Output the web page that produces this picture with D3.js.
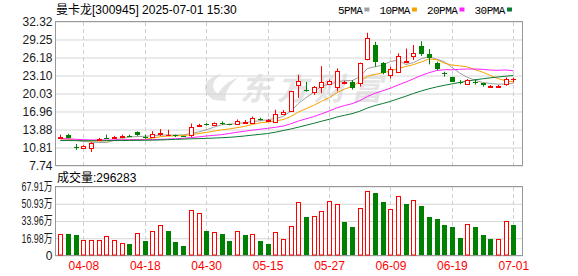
<!DOCTYPE html>
<html>
<head>
<meta charset="utf-8">
<script src="https://cdn.jsdelivr.net/npm/d3@7"></script>
<style>
  body { margin: 0; background: #fff; }
  svg { display: block; font-family: "Liberation Sans", Arial, "Noto Sans CJK SC", sans-serif; }
</style>
</head>
<body>
<svg id="chart" width="578" height="276"></svg>
<script>
// trading days shown (MM-DD)
var dates = ['04-02','04-03','04-07','04-08','04-09','04-10','04-11','04-14','04-15','04-16',
  '04-17','04-18','04-21','04-22','04-23','04-24','04-25','04-28','04-29','04-30',
  '05-06','05-07','05-08','05-09','05-12','05-13','05-14','05-15','05-16','05-19',
  '05-20','05-21','05-22','05-23','05-26','05-27','05-28','05-29','05-30','06-03',
  '06-04','06-05','06-06','06-09','06-10','06-11','06-12','06-13','06-16','06-17',
  '06-18','06-19','06-20','06-23','06-24','06-25','06-26','06-27','06-30','07-01'];

var opens = [12.45,12.9,10.95,10.75,10.85,12.2,12.5,12.55,12.75,12.8,13.4,12.65,12.56,13.25,12.85,12.95,12.75,13.02,14.6,14.75,
  14.62,15.0,14.78,14.86,15.1,15.03,15.7,15.45,15.26,16.55,16.98,21.49,20.7,20.25,21.2,21.78,21.1,21.9,22.05,21.78,
  25.85,28.28,25.17,23.19,23.75,25.55,26.3,28.1,26.7,25.28,23.5,22.85,22.0,21.61,21.95,21.75,21.15,21.2,21.66,22.4];
var highs = [13.0,13.15,11.4,11.2,11.7,12.45,13.0,12.8,13.0,13.0,13.55,13.0,13.6,13.95,13.83,13.0,12.8,14.9,14.85,14.95,
  15.1,15.25,14.85,15.6,15.5,16.1,15.9,15.7,17.25,17.2,20.45,23.2,22.0,21.3,24.7,22.4,24.3,22.2,22.3,25.3,
  30.4,28.85,25.4,24.6,26.9,27.7,28.3,28.95,27.6,25.45,23.75,22.9,22.3,22.5,22.45,21.8,21.45,21.5,22.75,22.75];
var lows = [12.3,12.4,10.4,10.7,10.05,12.1,12.4,12.5,12.6,12.6,12.8,12.3,12.5,12.8,12.8,12.6,12.6,12.63,14.3,14.55,
  14.55,14.65,14.6,14.8,14.95,14.9,15.4,15.3,15.2,16.5,16.9,19.3,20.35,19.8,20.1,21.5,20.4,21.6,20.7,21.2,
  25.7,24.6,23.3,22.6,23.5,25.2,25.75,26.45,25.0,24.0,22.9,22.0,21.6,21.5,21.55,21.2,21.0,21.0,21.35,21.9];
var closes = [12.6,12.46,10.85,11.1,11.65,12.3,12.42,12.65,12.85,12.7,12.85,12.55,13.14,13.35,12.9,12.72,12.7,14.35,14.7,14.65,
  15.0,14.8,14.72,15.42,15.25,15.9,15.6,15.55,16.57,16.85,20.38,22.22,20.6,21.1,22.05,22.22,23.8,22.0,21.1,25.17,
  29.42,25.3,23.4,24.15,26.41,25.65,26.87,26.7,26.0,24.33,23.35,22.05,21.95,22.34,21.85,21.35,21.25,21.3,22.5,22.46];

// volume in 万 (10k shares)
var volumes = [21.3,20.7,19.7,15.1,15.7,14.8,19.4,14.8,12.5,11.8,22.3,13.8,24.6,30.2,24.6,12.8,8.9,44.3,42.3,24.6,
  23.6,20.7,14.1,24.6,19.7,21.3,14.1,11.8,23.6,16.7,29.5,52.2,37.4,38.4,44.0,54.1,50.2,32.8,27.6,47.2,
  63.0,62.0,52.5,46.0,58.7,50.2,54.8,49.2,37.4,36.4,30.5,27.6,17.7,31.2,27.6,19.7,16.7,16.4,34.1,29.6283];

// moving averages
var ma5 = [12.35,12.3,12.05,11.85,11.73,11.67,11.66,12.02,12.37,12.58,12.69,12.72,12.82,12.92,12.96,12.93,12.96,13.2,13.47,13.82,
  14.28,14.7,14.77,14.92,15.04,15.22,15.38,15.54,15.77,16.09,16.99,18.31,19.32,20.23,21.27,21.64,21.95,22.23,22.23,22.86,
  24.3,24.6,24.88,25.49,25.74,24.98,25.3,25.96,26.33,25.91,25.45,24.49,23.54,22.8,22.31,21.91,21.75,21.62,21.65,21.77];
var ma10 = [12.3,12.25,12.1,12.0,11.95,11.95,11.95,12.0,12.1,12.16,12.18,12.19,12.42,12.65,12.77,12.81,12.84,13.01,13.19,13.38,
  13.6,13.82,13.98,14.19,14.42,14.74,15.03,15.15,15.34,15.56,16.1,16.85,17.43,18.0,18.68,19.31,20.13,20.78,21.23,22.06,
  22.97,23.28,23.56,23.86,24.3,24.64,24.95,25.42,25.91,25.82,25.22,24.89,24.75,24.57,24.11,23.68,23.12,22.58,22.2,22.02];
var ma20 = [12.3,12.28,12.22,12.15,12.1,12.1,12.1,12.1,12.12,12.13,12.14,12.15,12.16,12.2,12.25,12.3,12.38,12.5,12.62,12.77,
  12.89,13.0,13.2,13.41,13.59,13.77,13.93,14.08,14.26,14.47,14.85,15.33,15.7,16.09,16.55,17.03,17.58,17.96,18.29,18.81,
  19.53,20.06,20.5,20.93,21.49,21.98,22.54,23.1,23.57,23.94,24.09,24.08,24.15,24.21,24.2,24.16,24.03,23.99,24.05,23.91];
var ma30 = [12.0,12.0,11.98,11.97,11.97,11.97,11.98,12.0,12.0,12.02,12.03,12.05,12.07,12.1,12.15,12.2,12.25,12.3,12.33,12.37,
  12.42,12.48,12.55,12.65,12.78,12.92,13.06,13.2,13.42,13.7,13.96,14.28,14.61,14.94,15.29,15.62,16.0,16.31,16.59,17.0,
  17.55,17.98,18.32,18.68,19.13,19.56,20.04,20.45,20.83,21.15,21.43,21.67,21.91,22.14,22.36,22.54,22.7,22.85,22.98,23.1];

var priceTicks = [7.74, 10.81, 13.88, 16.96, 20.03, 23.10, 26.18, 29.25, 32.32];
var volTicks = [0, 16.98, 33.96, 50.93, 67.91];
var dateTicks = ['04-08','04-18','04-30','05-15','05-27','06-09','06-19','07-01'];
var maNames = ['5PMA','10PMA','20PMA','30PMA'];
var maColors = ['#a0a0a0','#f5a300','#ff22ff','#0b7a35'];

var red = '#ff0000', green = '#008000';
var left = 55.5, right = 522.5;

var svg = d3.select('#chart');

// scales
var x = d3.scalePoint().domain(dates).range([60.3, 513.3]);
var y = d3.scaleLinear().domain([7.74, 32.32]).range([165.5, 21.5]);
var yv = d3.scaleLinear().domain([0, 67.91]).range([255.5, 186.5]);

// watermark
var wm = svg.append('g').attr('fill', '#e4e4e4');
wm.append('path')
  .attr('d', 'M214,100 C200,92 202,78 222,74 C212,80 210,88 218,94 C222,86 230,80 238,78 C228,86 224,94 226,101 Z');
wm.append('text')
  .attr('x', 240).attr('y', 100)
  .attr('font-size', 31).attr('font-weight', 'bold').attr('font-style', 'italic')
  .attr('letter-spacing', 6)
  .attr('font-family', '"Noto Sans CJK SC", sans-serif')
  .text('东方财富');

// horizontal grid + price labels
var gp = svg.append('g')
  .attr('transform', 'translate(' + left + ',0)')
  .call(d3.axisLeft(y).tickValues(priceTicks).tickSize(-(right - left)).tickPadding(3).tickFormat(d3.format('.2f')));
gp.select('.domain').remove();
gp.selectAll('line').attr('stroke', '#d6d6d6');
gp.selectAll('text').attr('fill', '#1a1a1a').attr('font-size', 12).attr('font-family', '"Liberation Sans", Arial, sans-serif');

var gv = svg.append('g')
  .attr('transform', 'translate(' + left + ',0)')
  .call(d3.axisLeft(yv).tickValues(volTicks).tickSize(-(right - left)).tickPadding(3)
    .tickFormat(function(d) { return d === 0 ? '0' : d3.format('.2f')(d) + '万'; }));
gv.select('.domain').remove();
gv.selectAll('line').attr('stroke', '#d6d6d6');
gv.selectAll('text')
  .attr('fill', '#1a1a1a').attr('font-size', 12)
  .attr('font-family', '"Liberation Sans", Arial, "Noto Sans CJK SC", sans-serif')
  .each(function(d) {
    if (d !== 0) d3.select(this).attr('textLength', 31).attr('lengthAdjust', 'spacingAndGlyphs');
  });

// vertical dashed grid
var vg = svg.append('g').attr('stroke', '#cfcfcf').attr('stroke-dasharray', '4,3');
dateTicks.forEach(function(d) {
  var xx = Math.round(x(d)) + 0.5;
  vg.append('line').attr('x1', xx).attr('x2', xx).attr('y1', 22).attr('y2', 165);
  vg.append('line').attr('x1', xx).attr('x2', xx).attr('y1', 187).attr('y2', 255);
});

// panel borders
svg.append('rect').attr('x', left).attr('y', 21.5).attr('width', right - left).attr('height', 144)
  .attr('fill', 'none').attr('stroke', '#999');
svg.append('rect').attr('x', left).attr('y', 186.5).attr('width', right - left).attr('height', 69)
  .attr('fill', 'none').attr('stroke', '#999');

// date labels
var gx = svg.append('g')
  .attr('transform', 'translate(0,255.5)')
  .call(d3.axisBottom(x).tickValues(dateTicks).tickSize(0).tickPadding(6));
gx.select('.domain').remove();
gx.selectAll('text').attr('fill', red).attr('font-size', 12).attr('font-family', '"Liberation Sans", Arial, sans-serif');

// moving average lines
var idx = d3.range(dates.length);
[ma5, ma10, ma20, ma30].forEach(function(ma, k) {
  var line = d3.line()
    .x(function(i) { return x(dates[i]); })
    .y(function(i) { return y(ma[i]); });
  svg.append('path')
    .datum(idx)
    .attr('fill', 'none')
    .attr('stroke', maColors[k])
    .attr('stroke-width', 1)
    .attr('d', line);
});

// candles
var candle = svg.append('g').selectAll('g')
  .data(idx)
  .enter().append('g');

function upCandle(i) {
  if (closes[i] !== opens[i]) return closes[i] > opens[i];
  return i === 0 || closes[i] >= closes[i - 1];
}

candle.append('line')
  .attr('x1', function(i) { return Math.round(x(dates[i])) + 0.5; })
  .attr('x2', function(i) { return Math.round(x(dates[i])) + 0.5; })
  .attr('y1', function(i) { return y(highs[i]); })
  .attr('y2', function(i) { return y(lows[i]); })
  .attr('stroke', function(i) { return upCandle(i) ? red : green; });

candle.append('rect')
  .attr('x', function(i) { return Math.round(x(dates[i])) - (upCandle(i) ? 1.5 : 2); })
  .attr('width', function(i) { return upCandle(i) ? 4 : 5; })
  .attr('y', function(i) {
    var t = y(Math.max(opens[i], closes[i]));
    return upCandle(i) ? Math.round(t) + 0.5 : Math.round(t);
  })
  .attr('height', function(i) {
    var h = Math.abs(y(opens[i]) - y(closes[i]));
    return upCandle(i) ? Math.max(Math.round(h), 0.01) : Math.max(Math.round(h), 1);
  })
  .attr('fill', function(i) { return upCandle(i) ? '#fff' : green; })
  .attr('stroke', function(i) { return upCandle(i) ? red : 'none'; });

// volume bars: colour by close vs previous close
function upVol(i) {
  return i === 0 ? closes[i] >= opens[i] : closes[i] >= closes[i - 1];
}

svg.append('g').selectAll('rect')
  .data(idx)
  .enter().append('rect')
  .attr('x', function(i) { return Math.round(x(dates[i])) - (upVol(i) ? 1.5 : 2); })
  .attr('width', function(i) { return upVol(i) ? 4 : 5; })
  .attr('y', function(i) { return Math.round(yv(volumes[i])) + (upVol(i) ? 0.5 : 0); })
  .attr('height', function(i) { return 255 - Math.round(yv(volumes[i])) - (upVol(i) ? 0.5 : 0); })
  .attr('fill', function(i) { return upVol(i) ? '#fff' : green; })
  .attr('stroke', function(i) { return upVol(i) ? red : 'none'; });

// title, volume caption
svg.append('text')
  .attr('x', 56).attr('y', 14)
  .attr('font-size', 12).attr('fill', '#000')
  .text('曼卡龙[300945] 2025-07-01 15:30');

svg.append('text')
  .attr('x', 57).attr('y', 181.5)
  .attr('font-size', 12).attr('fill', '#000')
  .text('成交量:' + Math.round(volumes[volumes.length - 1] * 10000));

// legend
var lx = 338;
maNames.forEach(function(name, k) {
  var t = svg.append('text')
    .attr('x', lx).attr('y', 13.5)
    .attr('font-size', 11).attr('letter-spacing', -0.5)
    .attr('font-family', '"Liberation Mono", monospace')
    .attr('fill', '#000')
    .text(name);
  var w = t.node().getComputedTextLength();
  svg.append('rect')
    .attr('x', lx + w + 2).attr('y', 7.5)
    .attr('width', 5).attr('height', 4)
    .attr('fill', maColors[k]);
  lx += w + 17;
});
</script>
</body>
</html>
